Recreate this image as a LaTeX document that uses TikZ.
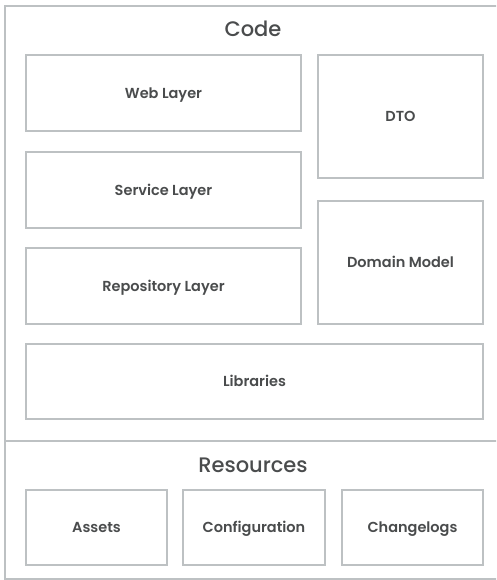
\documentclass[tikz,border=0pt]{standalone}
\usepackage{fontspec}
\setmainfont{Poppins}[BoldFont={* SemiBold}]
\newfontfamily\headfont{Poppins Medium}
\definecolor{edge}{HTML}{BDC1C3}
\definecolor{ink}{HTML}{4A4C4D}
\tikzset{
  blk/.style={draw=edge, line width=2pt, fill=white, inner sep=0pt, align=center,
              text=ink, text height=10.2pt, text depth=0pt,
              font=\fontsize{14.5}{17}\selectfont\bfseries},
  heading/.style={text=ink, inner sep=0pt, text height=14.7pt, text depth=0pt,
              font=\fontsize{21}{25}\selectfont\headfont},
}
\begin{document}
\begin{tikzpicture}[x=1pt,y=-1pt]
  \useasboundingbox (0,0) rectangle (496,580);
  \clip (0,0) rectangle (496,580);
  % outer frame, split into the code and resources sections
  \draw[edge, line width=2pt] (5,6) rectangle (520,578.5);
  \draw[edge, line width=2pt] (5,440.5) -- (520,440.5);

  \node[heading] (code) at (253,29.5) {Code};
  \node[heading] (res) at (253,465) {Resources};

  % code section
  \node[blk, minimum width=275pt, minimum height=76pt] (web) at (163.5,93) {Web Layer};
  \node[blk, minimum width=275pt, minimum height=75pt] (svc) at (163.5,190) {Service Layer};
  \node[blk, minimum width=275pt, minimum height=76pt] (repo) at (163.5,286) {Repository Layer};
  \node[blk, minimum width=165pt, minimum height=123pt] (dto) at (400.5,116.5) {DTO};
  \node[blk, minimum width=165pt, minimum height=123pt] (dom) at (400.5,262.5) {Domain Model};
  \node[blk, minimum width=457pt, minimum height=75pt] (libs) at (254.5,381.5) {Libraries};

  % resources section
  \node[blk, minimum width=141pt, minimum height=75pt] (assets) at (96.5,527.5) {Assets};
  \node[blk, minimum width=142pt, minimum height=75pt] (conf) at (254,527.5) {Configuration};
  \node[blk, minimum width=141pt, minimum height=75pt] (logs) at (412.5,527.5) {Changelogs};
\end{tikzpicture}
\end{document}
